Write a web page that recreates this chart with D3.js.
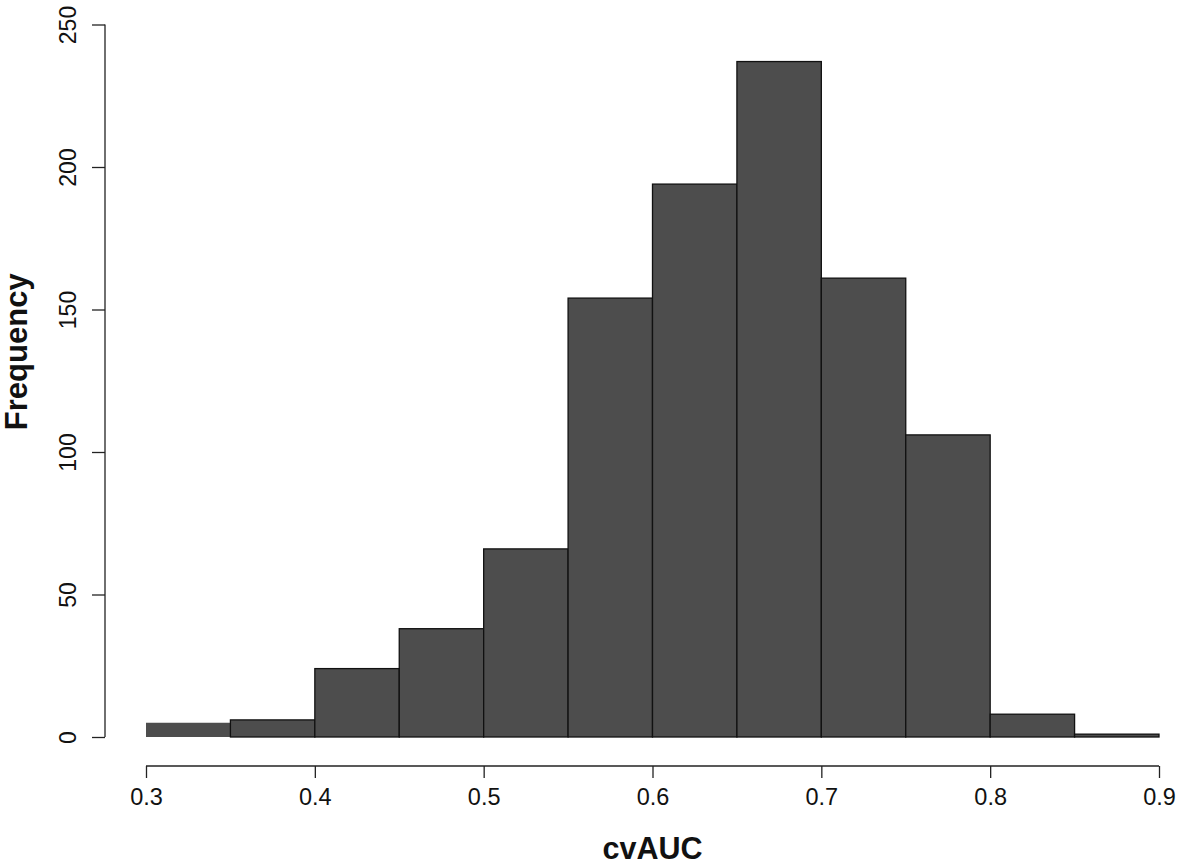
<!DOCTYPE html>
<html>
<head>
<meta charset="utf-8">
<script src="https://cdn.jsdelivr.net/npm/d3@7"></script>
<style>
  html, body { margin: 0; padding: 0; background: #fff; }
  svg { display: block; }
</style>
</head>
<body>
<svg id="chart" width="1181" height="864"></svg>
<script>
const binStarts = [0.30, 0.35, 0.40, 0.45, 0.50, 0.55, 0.60, 0.65, 0.70, 0.75, 0.80, 0.85];
const binWidth = 0.05;
const counts = [5, 6, 24, 38, 66, 154, 194, 237, 161, 106, 8, 1];
const xTicks = [0.3, 0.4, 0.5, 0.6, 0.7, 0.8, 0.9];
const yTicks = [0, 50, 100, 150, 200, 250];
const xLabel = "cvAUC";
const yLabel = "Frequency";

const svg = d3.select("#chart");
const font = "'Liberation Sans', Arial, Helvetica, sans-serif";

const x = d3.scaleLinear().domain([0.3, 0.9]).range([146, 1159]);
const y = d3.scaleLinear().domain([0, 250]).range([737, 24.5]);

// bars
const bins = binStarts.map((s, i) => ({ x0: s, x1: s + binWidth, n: counts[i], i }));
svg.append("g").selectAll("rect").data(bins).join("rect")
  .attr("x", d => x(d.x0))
  .attr("y", d => y(d.n))
  .attr("width", d => x(d.x1) - x(d.x0))
  .attr("height", d => y(0) - y(d.n))
  .attr("fill", "#4d4d4d")
  .attr("stroke", d => d.i === 0 ? "none" : "#111")
  .attr("stroke-width", 1.3);

// x axis
const xAxis = svg.append("g").attr("transform", "translate(0,766)")
  .call(d3.axisBottom(x).tickValues(xTicks).tickFormat(d3.format(".1f")).tickSize(12).tickPadding(10));
xAxis.select(".domain").attr("stroke", "#222").attr("stroke-width", 1.3)
  .attr("d", `M${x(0.3)},0H${x(0.9)}`);
xAxis.selectAll(".tick line").attr("stroke", "#222").attr("stroke-width", 1.3);
xAxis.selectAll(".tick text").attr("font-family", font).attr("font-size", 23.5).attr("fill", "#111")
  .attr("dy", "0.71em");

// y axis
const yAxis = svg.append("g").attr("transform", "translate(105,0)")
  .call(d3.axisLeft(y).tickValues(yTicks).tickSize(13).tickPadding(0));
yAxis.select(".domain").attr("stroke", "#222").attr("stroke-width", 1.3)
  .attr("d", `M0,${y(0)}V${y(250)}`);
yAxis.selectAll(".tick line").attr("stroke", "#222").attr("stroke-width", 1.3);
yAxis.selectAll(".tick text")
  .attr("font-family", font).attr("font-size", 23).attr("fill", "#111")
  .attr("text-anchor", "middle")
  .attr("x", null).attr("dy", null)
  .attr("transform", "translate(-29,0) rotate(-90)");

// axis titles
svg.append("text")
  .attr("x", x(0.6)).attr("y", 859)
  .attr("text-anchor", "middle")
  .attr("font-family", font).attr("font-weight", "bold").attr("font-size", 30.5).attr("fill", "#111")
  .text(xLabel);

svg.append("text")
  .attr("transform", `translate(27,${(y(0) + y(250)) / 2 - 29}) rotate(-90)`)
  .attr("text-anchor", "middle")
  .attr("font-family", font).attr("font-weight", "bold").attr("font-size", 31).attr("fill", "#111")
  .text(yLabel);
</script>
</body>
</html>
